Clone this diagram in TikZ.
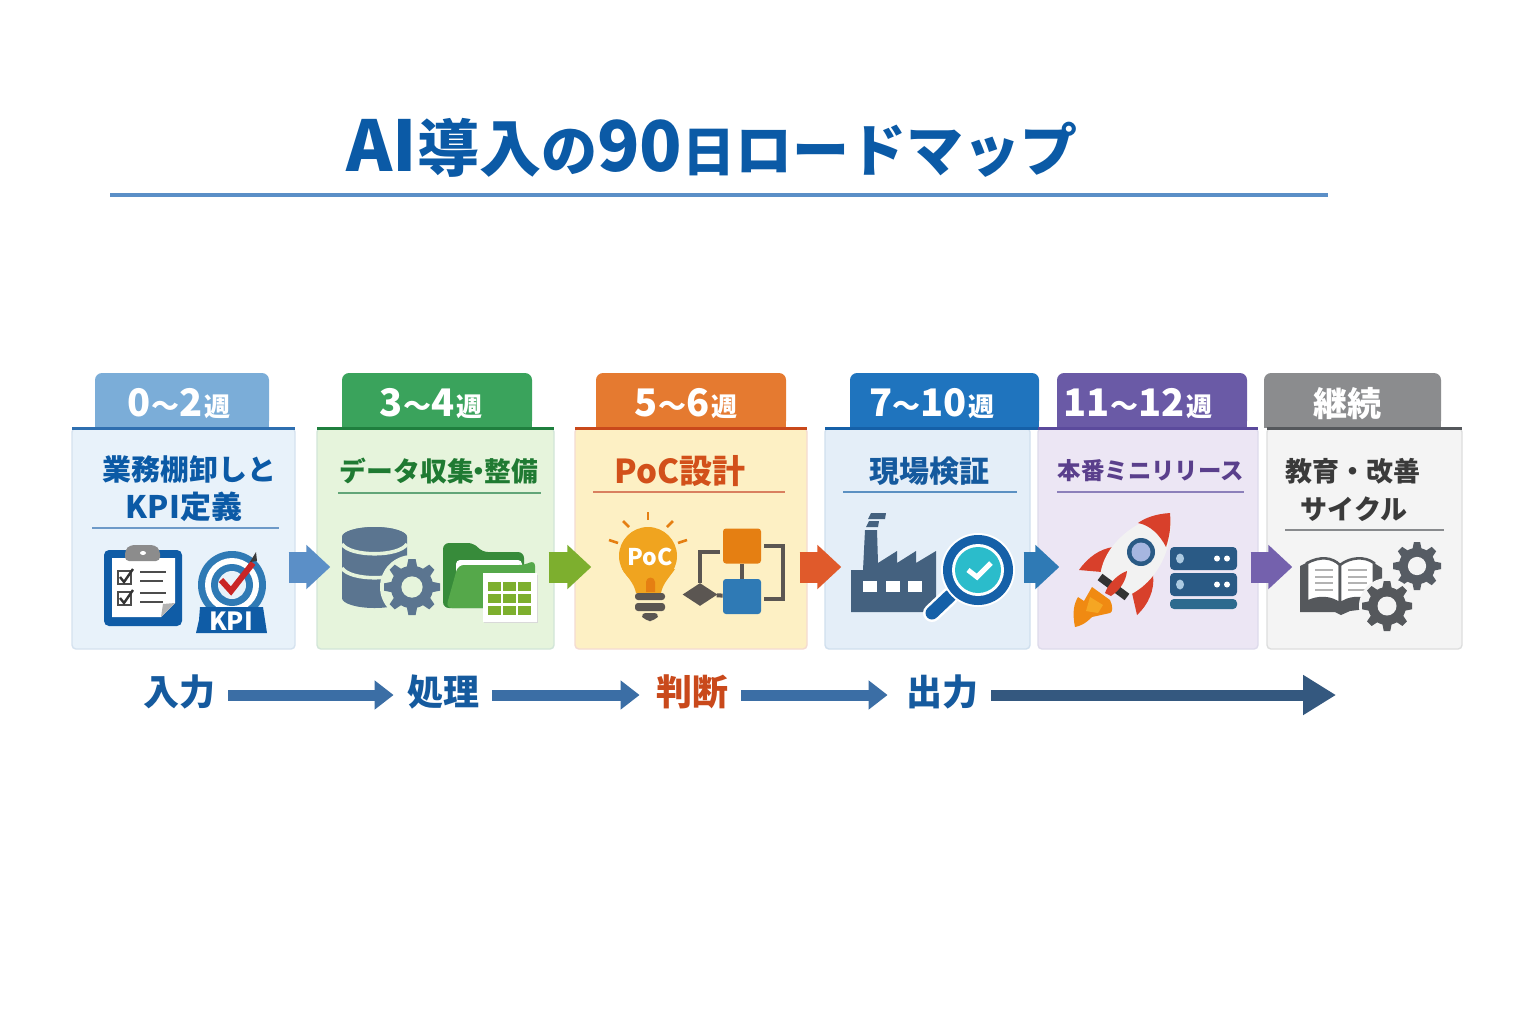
\documentclass[tikz,border=0pt]{standalone}
\usepackage{fontspec}
\setmainfont{Noto Sans CJK JP}
\usetikzlibrary{arrows.meta,shapes.geometric}

\definecolor{fillA}{HTML}{E8F2FA}\definecolor{edgeA}{HTML}{2F6FB0}\definecolor{tabA}{HTML}{7BADD8}\definecolor{headA}{HTML}{0B5AA6}
\definecolor{fillB}{HTML}{E6F4DC}\definecolor{edgeB}{HTML}{1F7F3E}\definecolor{tabB}{HTML}{3AA35C}\definecolor{headB}{HTML}{1F7A32}
\definecolor{fillC}{HTML}{FDF0C4}\definecolor{edgeC}{HTML}{C9491B}\definecolor{tabC}{HTML}{E57A30}\definecolor{headC}{HTML}{D2501A}
\definecolor{fillD}{HTML}{E4EEF8}\definecolor{edgeD}{HTML}{1560A8}\definecolor{tabD}{HTML}{1F74BE}\definecolor{headD}{HTML}{155A9E}
\definecolor{fillE}{HTML}{ECE6F4}\definecolor{edgeE}{HTML}{5B4A9C}\definecolor{tabE}{HTML}{6A5AA6}\definecolor{headE}{HTML}{5A3F8C}
\definecolor{fillF}{HTML}{F4F4F4}\definecolor{edgeF}{HTML}{55585C}\definecolor{tabF}{HTML}{8B8C8E}\definecolor{headF}{HTML}{3A3A3A}
\definecolor{arrA}{HTML}{5B8FC7}\definecolor{arrB}{HTML}{7DAF2E}\definecolor{arrC}{HTML}{E05A2B}\definecolor{arrD}{HTML}{2F7AB5}\definecolor{arrE}{HTML}{7461AD}
\definecolor{slate}{HTML}{5B7590}\definecolor{ink}{HTML}{5B5652}\definecolor{navy}{HTML}{0F5CA6}\definecolor{flowline}{HTML}{3B6EA5}
\definecolor{flowlast}{HTML}{34587F}\definecolor{bulb}{HTML}{F0A41F}\definecolor{filament}{HTML}{E57F12}
\definecolor{plant}{HTML}{44617F}\definecolor{lens}{HTML}{2BBCCB}\definecolor{rack}{HTML}{2A5A85}\definecolor{racklow}{HTML}{2D6A8E}
\definecolor{flameout}{HTML}{F08A12}\definecolor{flamein}{HTML}{F5A623}\definecolor{fin}{HTML}{D8402B}\definecolor{porthole}{HTML}{A6B6E0}

\newcommand{\fs}[1]{\fontsize{#1}{#1}\selectfont}
\newcommand{\wk}[2]{#1{\fs{14}〜}#2\hspace{.05em}{\fs{13}週}}
\newcommand{\ndot}{\hspace{-.3em}・\hspace{-.3em}}
% x, y, radius, colour, hole colour
\newcommand{\gearicon}[5]{%
  \begin{scope}[shift={(#1,#2)}]
    \fill[#4] (0,0) circle ({0.76*#3});
    \foreach \ang in {0,45,...,315}
      \fill[#4,rotate=\ang] ({-0.2*#3},{0.65*#3}) -- ({-0.13*#3},#3) -- ({0.13*#3},#3) -- ({0.2*#3},{0.65*#3}) -- cycle;
    \fill[#5] (0,0) circle ({0.38*#3});
  \end{scope}}

\tikzset{
  tabbox/.style={rounded corners=3.5pt, inner sep=0pt, minimum height=27.5pt},
  tablabel/.style={text=white, font=\bfseries\fs{19}, inner sep=0pt},
  cardbox/.style={rounded corners=2pt, inner sep=0pt, minimum height=110.5pt, line width=.7pt},
  cardhead/.style={font=\bfseries\fs{14.5}, inner sep=0pt},
  flowlabel/.style={font=\bfseries\fs{18}, inner xsep=6.5pt, inner ysep=0pt, text height=16pt, text depth=6pt},
  flowarrow/.style={draw=flowline, line width=5.5pt, -{Triangle[length=9.5pt,width=14pt]}},
  blockarrow/.style={line width=15.5pt, -{Triangle[length=12pt,width=21.5pt]}},
  flowbox/.style={inner sep=0pt, rounded corners=1.5pt, minimum width=19pt, minimum height=17.5pt},
  flowlink/.style={draw=ink, line width=2pt}
}

\begin{document}
\begin{tikzpicture}[x=.5pt, y=-.5pt]
  \fill[white] (0,0) rectangle (1536,1024);
  \useasboundingbox (0,0) rectangle (1536,1024);

  % Title
  \node[text=headA, font=\bfseries, inner sep=0pt] (titlemain) at (712,148) {{\fs{35}AI}{\fs{31}導入}{\fs{28}の}{\fs{35}90}{\fs{26.5}日}{\fs{28.5}ロードマップ}};
  \coordinate (rulea) at (110,195);
  \coordinate (ruleb) at (1328,195);
  \draw[line width=2pt, draw=arrA] (rulea) -- (ruleb);

  % Tabs and cards
  \foreach \id/\xa/\xb/\ta/\tb in {A/72/295/95/269, B/317/554/342/532, C/575/807/596/786, D/825/1030/850/1039, E/1038/1258/1057/1247, F/1267/1462/1264/1441} {
    \node[tabbox, fill=tab\id, minimum width={(\tb-\ta)*.5pt}] (tab\id) at ({(\ta+\tb)/2},400.5) {};
    \fill[tab\id] (\ta,400) rectangle (\tb,428);
    \node[cardbox, fill=fill\id, draw=edge\id!20, minimum width={(\xb-\xa)*.5pt}] (card\id) at ({(\xa+\xb)/2},538.5) {};
  }
  \foreach \id/\ta/\tb in {A/72/295, B/317/554, C/575/807, D/825/1039, E/1038/1258, F/1267/1462}
    \draw[line width=1.3pt, draw=edge\id] (\ta,428.5) -- (\tb,428.5);

  % Tab labels
  \node[tablabel] (weekA) at (179,404) {\wk{0}{2}};
  \node[tablabel] (weekB) at (431,404) {\wk{3}{4}};
  \node[tablabel] (weekC) at (686,404) {\wk{5}{6}};
  \node[tablabel] (weekD) at (932,404) {\wk{7}{10}};
  \node[tablabel] (weekE) at (1138,404) {\wk{11}{12}};
  \node[tablabel] (weekF) at (1347,404) {\fs{17}継続};

  % Card headings
  \node[cardhead, text=headA] (headAa) at (189,470) {業務棚卸しと};
  \node[cardhead, text=headA, font=\bfseries\fs{15.5}] (headAb) at (184,507) {KPI定義};
  \node[cardhead, text=headB, font=\bfseries\fs{13.4}] (headBa) at (439,471) {データ収集\ndot 整備};
  \node[cardhead, text=headC, font=\bfseries\fs{16.5}] (headCa) at (680,471) {PoC設計};
  \node[cardhead, text=headD, font=\bfseries\fs{15}] (headDa) at (929,471) {現場検証};
  \node[cardhead, text=headE, font=\bfseries\fs{11.7}] (headEa) at (1151,471) {本番ミニリリース};
  \node[cardhead, text=headF, font=\bfseries\fs{13.5}] (headFa) at (1353,471) {教育・改善};
  \node[cardhead, text=headF, font=\bfseries\fs{13.5}] (headFb) at (1354,509) {サイクル};
  \foreach \id/\ta/\tb/\ty in {A/92/279/528, B/338/541/493, C/593/785/492, D/843/1017/492, E/1057/1244/492, F/1285/1444/530}
    \draw[line width=.7pt, draw=edge\id!70] (\ta,\ty) -- (\tb,\ty);

  % Clipboard
  \fill[navy, rounded corners=2.5pt] (104,550) rectangle (182,626);
  \fill[white] (112,558) -- (175,558) -- (175,603) -- (161,617) -- (112,617) -- cycle;
  \fill[black!30] (175,603) -- (161,617) -- (163,604) -- cycle;
  \fill[black!45, rounded corners=2pt] (125,550) -- (130,545) -- (155,545) -- (160,550) -- (160,561) -- (125,561) -- cycle;
  \fill[white] (143,553) ellipse [x radius=3, y radius=2];
  \foreach \ty in {571,592} {
    \draw[line width=.8pt, draw=black!70] (118,\ty) rectangle (131,\ty+13);
    \draw[line width=1.2pt, draw=black!80] (120,\ty+6) -- (124,\ty+11) -- (133,\ty-2);
    \draw[line width=.7pt, draw=black!70] (140,\ty+1) -- (166,\ty+1);
    \draw[line width=.7pt, draw=black!70] (140,\ty+10) -- (163,\ty+10);
  }

  % KPI target
  \fill[arrD] (232,585) circle (34);
  \fill[white] (232,585) circle (27);
  \fill[arrD] (232,585) circle (21);
  \fill[fillA] (232,585) circle (14);
  \fill[navy] (200,607) -- (263,607) -- (267,633) -- (196,633) -- (199,620) -- cycle;
  \node[text=white, font=\bfseries\fs{12.5}, inner sep=0pt] (kpitag) at (231,621) {KPI};
  \draw[line width=3pt, draw=red!75!black!85, line join=miter] (221,580) -- (231,591) -- (253,563);
  \fill[headF] (250,562) -- (256,552) -- (257,561) -- cycle;

  % Database and gear
  \fill[slate] (342,537) -- (342,598) arc[start angle=180, end angle=360, x radius=32.5, y radius=-10] -- (407,537) arc[start angle=0, end angle=180, x radius=32.5, y radius=-10] -- cycle;
  \fill[slate] (374.5,537) ellipse [x radius=32.5, y radius=10];
  \foreach \ty in {544,568}
    \draw[line width=1.8pt, draw=fillB] (342,\ty) .. controls (350,\ty+13) and (399,\ty+13) .. (407,\ty);
  \fill[fillB] (412,587) circle (32);
  \gearicon{412}{587}{28}{slate}{fillB}

  % Folder with table
  \fill[edgeB!75!arrB, rounded corners=3pt] (443,608) -- (443,543) -- (474,543) -- (482,552) -- (524,552) -- (524,608) -- cycle;
  \fill[white, rounded corners=2pt] (456,608) -- (456,560) -- (522,560) -- (522,608) -- cycle;
  \fill[tabB!60!arrB, rounded corners=3pt] (446,608) -- (458,565) -- (525,565) -- (535,560) -- (535,608) -- cycle;
  \fill[black!15] (484,575) rectangle (538,623);
  \fill[white] (483,573) rectangle (537,622);
  \foreach \tx in {488,503,518}
    \foreach \ty in {582,594,606}
      \fill[arrB] (\tx,\ty) rectangle (\tx+13,\ty+9);

  % PoC bulb
  \fill[bulb] (648,556) circle (29);
  \fill[bulb] (622,569) .. controls (628,578) and (634,583) .. (636,593) -- (661,593) .. controls (663,583) and (669,578) .. (675,569) -- cycle;
  \fill[filament] (646,592) -- (646,582) arc[start angle=180, end angle=360, radius=4.5] -- (655,592) -- cycle;
  \node[text=white, font=\bfseries\fs{11.5}, inner sep=0pt] (pocmark) at (650,557) {PoC};
  \foreach \tx/\ty/\ux/\uy in {648/512/648/520, 623/521/629/527, 673/521/667/527, 609/540/618/543, 687/540/678/543}
    \draw[line width=1.3pt, draw=filament] (\tx,\ty) -- (\ux,\uy);
  \fill[ink, rounded corners=1.5pt] (635,593) rectangle (665,600);
  \fill[ink, rounded corners=1.5pt] (635,603) rectangle (665,611);
  \fill[ink, rounded corners=3pt] (640,613) -- (660,613) -- (655,621) -- (645,621) -- cycle;

  % Flow chart
  \node[flowbox, fill=filament] (flowtop) at (742,546) {};
  \node[flowbox, fill=arrD] (flowlow) at (742,596.5) {};
  \node[diamond, fill=ink, inner sep=0pt, minimum width=17.5pt, minimum height=11.5pt] (flowdec) at (700,594.5) {};
  \coordinate (flowturn) at (783,546);
  \draw[flowlink] (flowtop) -- (flowlow);
  \draw[flowlink] (flowdec) -- (flowlow);
  \draw[flowlink] ([yshift=-6*.5pt]flowtop.west) ++(-3,0) -| (flowdec.north);
  \draw[flowlink] ([xshift=1.5pt]flowtop.east) -- (flowturn) |- ([xshift=1.5pt,yshift=-1pt]flowlow.east);

  % Factory
  \fill[plant] (851,612) -- (851,570) -- (863,570) -- (865,530) -- (877,530) -- (878,563) -- (897,551) -- (897,563) -- (916,551) -- (916,563) -- (936,551) -- (936,612) -- cycle;
  \fill[plant] (866,527) -- (869,521) -- (879,521) -- (878,527) -- cycle;
  \fill[plant] (868,519) -- (871,513) -- (886,513) -- (885,519) -- cycle;
  \foreach \tx in {863,886,908}
    \fill[white] (\tx,581) rectangle (\tx+13.5,592);

  % Magnifier
  \draw[line width=9pt, draw=white, line cap=round] (950,596) -- (932,613);
  \draw[line width=6.5pt, draw=edgeD, line cap=round] (950,596) -- (932,613);
  \fill[white] (978,570) circle (37);
  \fill[edgeD] (978,570) circle (35);
  \fill[white] (978,570) circle (26);
  \fill[lens] (978,570) circle (23);
  \draw[line width=2.5pt, draw=white] (968,570) -- (977,577) -- (991,563);

  % Rocket
  \fill[flameout] (1075,627) .. controls (1072,612) and (1074,604) .. (1078,597) -- (1084,601) -- (1092,587) -- (1110,600) .. controls (1113,606) and (1113,612) .. (1110,613) -- (1092,617) .. controls (1085,624) and (1080,626) .. cycle;
  \fill[flamein] (1086,611) -- (1090,597) -- (1103,605) -- (1098,613) -- cycle;
  \fill[fin] (1079,570) .. controls (1088,557) and (1100,549) .. (1113,547) -- (1102,572) -- cycle;
  \fill[fin] (1153,575) .. controls (1155,590) and (1148,605) .. (1137,615) -- (1132,593) -- cycle;
  \fill[black!5] (1170,513) .. controls (1130,520) and (1100,550) .. (1100,580) -- (1125,597) .. controls (1155,585) and (1175,550) .. cycle;
  \fill[fin] (1170,513) .. controls (1155,514) and (1145,518) .. (1138,523) .. controls (1150,525) and (1160,535) .. (1166,547) .. controls (1170,535) and (1171,525) .. cycle;
  \fill[rack] (1141,552) circle (14);
  \fill[porthole] (1141,552) circle (9.5);
  \draw[line width=4pt, draw=black!80] (1100,577) -- (1127,597);
  \fill[fin] (1127,571) .. controls (1118,574) and (1108,584) .. (1105,593) -- (1111,596) .. controls (1120,590) and (1126,581) .. cycle;

  % Server rack
  \foreach \ty in {547,573} {
    \fill[rack, rounded corners=2pt] (1170,\ty) rectangle (1237,\ty+23);
    \fill[arrD!40!white] (1180,\ty+11.5) ellipse [x radius=4, y radius=5];
    \fill[white] (1217,\ty+11.5) circle (3);
    \fill[white] (1227,\ty+11.5) circle (3);
  }
  \fill[racklow, rounded corners=2pt] (1170,599) rectangle (1237,609);

  % Open book
  \fill[edgeF] (1300,566) -- (1300,612) -- (1335,612) -- (1341,615) -- (1350,611) -- (1382,607) -- (1382,568) -- (1374,563) -- (1306,563) -- cycle;
  \draw[line width=1.3pt, draw=edgeF, fill=white] (1307,563) .. controls (1320,556) and (1332,557) .. (1340,565) -- (1340,604) .. controls (1332,597) and (1318,596) .. (1307,602) -- cycle;
  \draw[line width=1.3pt, draw=edgeF, fill=white] (1340,565) .. controls (1350,557) and (1365,556) .. (1374,563) -- (1374,602) .. controls (1362,596) and (1348,597) .. (1340,604) -- cycle;
  \foreach \ty in {570,577,583,590} {
    \draw[line width=.9pt, draw=black!30] (1315,\ty) -- (1333,\ty);
    \draw[line width=.9pt, draw=black!30] (1348,\ty) -- (1367,\ty);
  }
  \gearicon{1417}{566}{24}{edgeF!85!slate}{fillF}
  \fill[fillF] (1387,606) circle (28);
  \gearicon{1387}{606}{25}{edgeF}{fillF}

  % Arrows between cards
  \foreach \cfrom/\cto/\sa/\sb/\shade in {A/B/-7/14/arrA, B/C/-6/17/arrB, C/D/-8/17/arrC, D/E/-7/22/arrD, E/F/-8/26/arrE}
    \draw[blockarrow, draw=\shade] ([shift={(\sa,28.5)}]card\cfrom.east) -- ([shift={(\sb,28.5)}]card\cto.west);

  % Bottom flow
  \node[flowlabel, text=headD] (stepin) at (179,695) {入力};
  \node[flowlabel, text=headD] (stepproc) at (443,695) {処理};
  \node[flowlabel, text=edgeC] (stepjudge) at (692,695) {判断};
  \node[flowlabel, text=headD] (stepout) at (942,695) {出力};
  \coordinate (stepend) at (1336,695);
  \draw[flowarrow] (stepin) -- (stepproc);
  \draw[flowarrow, shorten >=1.5pt] (stepproc) -- (stepjudge);
  \draw[flowarrow, shorten >=2.5pt] (stepjudge) -- (stepout);
  \draw[flowarrow, draw=flowlast, -{Triangle[length=16.5pt,width=19pt]}] (stepout) -- (stepend);
\end{tikzpicture}
\end{document}
